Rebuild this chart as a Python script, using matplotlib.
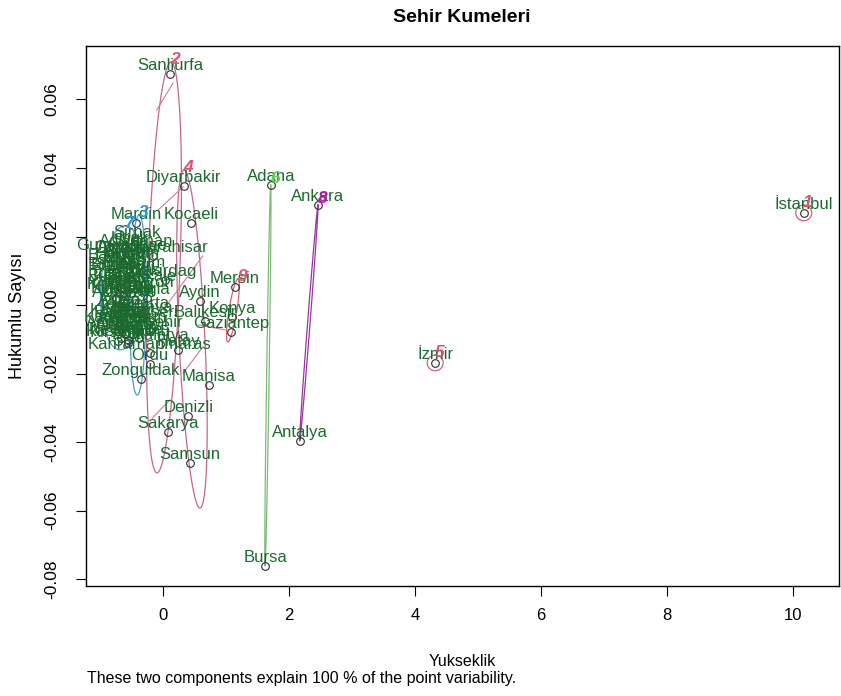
import numpy as np
import matplotlib
matplotlib.use('Agg')
import matplotlib.pyplot as plt

plt.rcParams['font.family'] = ['Liberation Sans', 'DejaVu Sans']

# city coordinates on the two components
cities = ['İstanbul', 'İzmir', 'Ankara', 'Antalya', 'Bursa', 'Adana', 'Sanliurfa',
          'Diyarbakir', 'Kocaeli', 'Mardin', 'Mersin', 'Konya', 'Gaziantep', 'Manisa',
          'Denizli', 'Sakarya', 'Samsun', 'Aydin', 'Zonguldak', 'Ordu', 'Kahramanmaras',
          'Hatay', 'Malatya', 'Tekirdag', 'Afyonkarahisar', 'Balikesir', 'Eskisehir',
          'Kutahya', 'Sirnak', 'Hakkari', 'Batman', 'Burdur', 'Canakkale', 'Aksaray',
          'Kastamonu', 'Bilecik',
          'Trabzon', 'Erzurum', 'Van', 'Siirt', 'Bitlis', 'Mus', 'Agri', 'Kars', 'Igdir',
          'Ardahan', 'Artvin', 'Rize', 'Giresun', 'Gumushane', 'Bayburt', 'Erzincan',
          'Tunceli', 'Bingol', 'Elazig', 'Adiyaman', 'Kilis', 'Osmaniye', 'Nigde',
          'Nevsehir', 'Kirsehir', 'Kirikkale', 'Yozgat', 'Sivas', 'Tokat', 'Amasya',
          'Corum', 'Cankiri', 'Sinop', 'Bartin', 'Karabuk', 'Bolu', 'Duzce', 'Yalova',
          'Usak', 'Isparta', 'Mugla', 'Edirne', 'Kirklareli', 'Kayseri', 'Karaman']
yukseklik = [10.17, 4.32, 2.46, 2.17, 1.62, 1.71, 0.11,
             0.33, 0.44, -0.43, 1.14, 1.10, 1.08, 0.73,
             0.40, 0.08, 0.43, 0.59, -0.35, -0.21, -0.21,
             0.24, -0.05, 0.03, -0.16, 0.67, -0.21,
             -0.32, -0.41, -0.64, -0.74, -0.80, -0.41, -0.64,
             -0.56, -0.66,
             -0.30, -0.45, -0.35, -0.58, -0.66, -0.68, -0.53, -0.72, -0.74,
             -0.72, -0.70, -0.56, -0.40, -0.66, -0.74, -0.63,
             -0.74, -0.58, -0.50, -0.42, -0.76, -0.48, -0.62,
             -0.66, -0.72, -0.64, -0.52, -0.36, -0.44, -0.60,
             -0.46, -0.68, -0.74, -0.76, -0.67, -0.55, -0.38, -0.78,
             -0.52, -0.30, -0.25, -0.58, -0.70, -0.20, -0.72]
hukumlu = [0.0269, -0.0169, 0.0292, -0.0397, -0.0762, 0.0350, 0.0674,
           0.0347, 0.0239, 0.0239, 0.0053, -0.0035, -0.0079, -0.0234,
           -0.0324, -0.0371, -0.0461, 0.0012, -0.0216, -0.0172, -0.0140,
           -0.0131, -0.0114, 0.0073, 0.0143, -0.0047, -0.0076,
           -0.0032, 0.0187, 0.0123, 0.0093, 0.0058, 0.0058, 0.0012,
           -0.0102, -0.0067,
           0.0040, 0.0100, 0.0130, 0.0165, 0.0050, 0.0110, 0.0075, -0.0030, 0.0020,
           -0.0075, -0.0010, -0.0020, -0.0060, 0.0150, 0.0120, 0.0090,
           0.0070, 0.0130, 0.0035, 0.0160, -0.0010, -0.0085, -0.0050,
           -0.0095, -0.0105, 0.0025, -0.0040, 0.0075, 0.0015, -0.0085,
           0.0125, 0.0145, 0.0095, -0.0045, -0.0040, -0.0110, -0.0095, 0.0045,
           0.0170, -0.0020, 0.0020, 0.0055, 0.0035, -0.0045, -0.0060]

# cluster ellipses (top point, bottom point, half width)
clus_id = ['1', '2', '3', '4', '5', '6', '7', '8', '9']
clus_col = ['#DF536B', '#DF536B', '#2297E6', '#DF536B', '#DF536B',
            '#61D04F', '#2297E6', '#CD0BBC', '#DF536B']
line_col = ['#D9607A', '#C8668A', '#4A9AD0', '#C8668A', '#D9607A',
            '#7DBA78', '#4A9AD0', '#9A35A0', '#D9607A']
ell_top_x = [10.17, 0.127, -0.38, 0.333, 4.32, 1.71, -0.60, 2.46, 1.19]
ell_top_y = [0.0292, 0.0709, 0.0263, 0.0394, -0.0146, 0.0350, 0.0231, 0.0292, 0.0076]
ell_bot_x = [10.17, -0.095, -0.41, 0.587, 4.32, 1.62, -0.68, 2.17, 1.03]
ell_bot_y = [0.0246, -0.0490, -0.0263, -0.0593, -0.0192, -0.0762, -0.0131, -0.0397, -0.0108]
ell_hw = [0.127, 0.254, 0.13, 0.206, 0.127, 0.02, 0.35, 0.02, 0.063]

# segments between clusters
link_x0 = [0.16, 0.32, 0.63, 0.63, 0.11, 1.00]
link_y0 = [0.0648, 0.0345, 0.0143, -0.0123, -0.0277, -0.0073]
link_x1 = [-0.10, -0.08, 0.00, 0.32, -0.17, 0.56]
link_y1 = [0.0569, 0.0277, -0.0015, -0.0199, -0.0330, -0.0058]

fig = plt.figure(figsize=(8.41, 6.96), dpi=100)
ax = fig.add_axes([86 / 841, 1 - 586 / 696, 753 / 841, 540 / 696])

t = np.linspace(0, 2 * np.pi, 200)
for i in range(len(clus_id)):
    cx = (ell_top_x[i] + ell_bot_x[i]) / 2
    cy = (ell_top_y[i] + ell_bot_y[i]) / 2
    ux = ell_top_x[i] - cx
    uy = ell_top_y[i] - cy
    ex = cx + np.cos(t) * ux + np.sin(t) * ell_hw[i]
    ey = cy + np.cos(t) * uy
    ax.plot(ex, ey, color=line_col[i], lw=0.9)
    # degenerate (two point) clusters get their number a bit higher
    dy = 5 if ell_hw[i] < 0.05 else 2
    ax.annotate(clus_id[i], (ell_top_x[i], ell_top_y[i]), xytext=(3, dy),
                textcoords='offset points', ha='center', va='center', zorder=6,
                color=clus_col[i], fontsize=12.5, fontweight='bold', fontstyle='italic')

for i in range(len(link_x0)):
    ax.plot([link_x0[i], link_x1[i]], [link_y0[i], link_y1[i]], color='#D07A95', lw=0.8)

ax.plot(yukseklik, hukumlu, 'o', mfc='none', mec='#2a2a2a', ms=5.5, mew=0.8)
for name, x, y in zip(cities, yukseklik, hukumlu):
    ax.annotate(name, (x, y), xytext=(0, 6), textcoords='offset points',
                ha='center', va='center', color='#1a6a2e', fontsize=12)

ax.set_xlim(-1.222, 10.73)
ax.set_ylim(-0.08204, 0.07562)
ax.set_xticks([0, 2, 4, 6, 8, 10])
ax.set_yticks([-0.08, -0.06, -0.04, -0.02, 0.00, 0.02, 0.04, 0.06])
ax.set_yticklabels(['-0.08', '-0.06', '-0.04', '-0.02', '0.00', '0.02', '0.04', '0.06'],
                   rotation=90, va='center')
ax.tick_params(axis='x', length=7, width=0.8, labelsize=12, pad=9)
ax.tick_params(axis='y', length=7, width=0.8, labelsize=12.5, pad=12)
for sp in ax.spines.values():
    sp.set_linewidth(1.0)

fig.text(462 / 841, 1 - 17 / 696, 'Sehir Kumeleri', ha='center', va='center',
         fontsize=14, fontweight='bold')
fig.text(462 / 841, 1 - 661 / 696, 'Yukseklik', ha='center', va='center', fontsize=11.5)
fig.text(87 / 841, 1 - 678 / 696,
         'These two components explain 100 % of the point variability.',
         ha='left', va='center', fontsize=11.5)
fig.text(18 / 841, 1 - 316 / 696, 'Hukumlu Sayısı', ha='center', va='center',
         rotation=90, fontsize=13)

fig.savefig('out.png', dpi=100)
